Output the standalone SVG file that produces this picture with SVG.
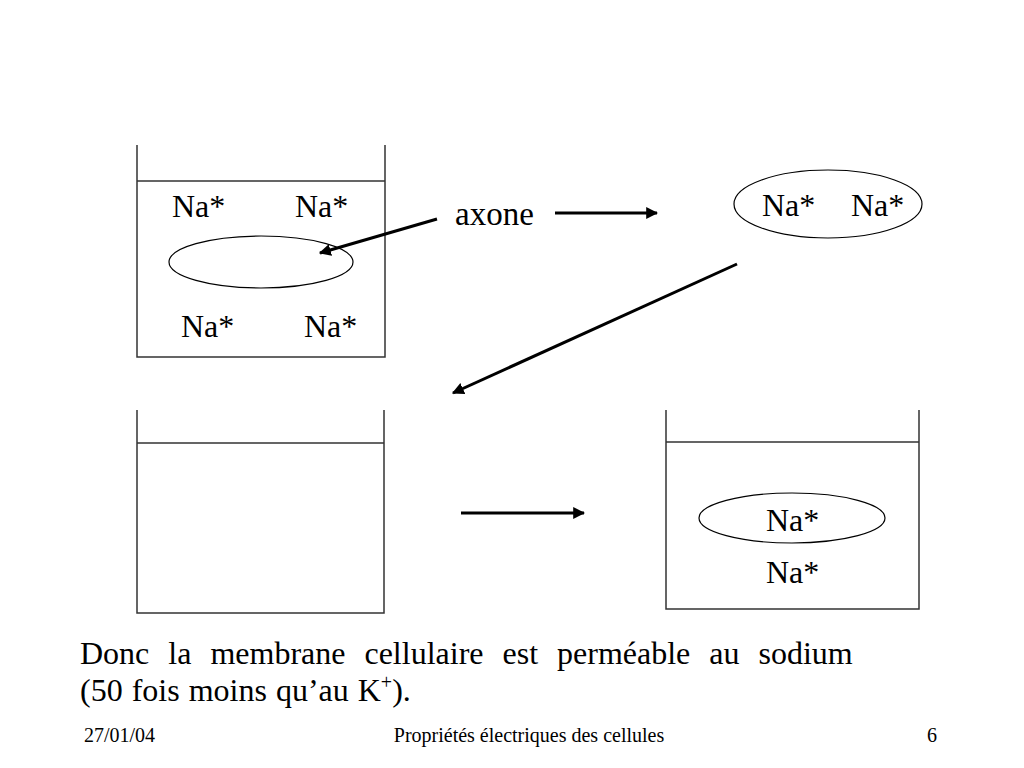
<svg xmlns="http://www.w3.org/2000/svg" width="1024" height="768" viewBox="0 0 1024 768">
<defs>
<style>
text{font-family:"Liberation Serif","Times New Roman",serif;fill:#000}
.lbl{font-size:32px}
.beaker{fill:none;stroke:#333;stroke-width:1.5}
.ell{fill:none;stroke:#000;stroke-width:1.2}
.arr{fill:none;stroke:#000;stroke-width:3;marker-end:url(#ah)}
</style>
<marker id="ah" viewBox="0 0 10 10" refX="9" refY="5" markerWidth="4" markerHeight="4" orient="auto" markerUnits="strokeWidth">
<path d="M0,0 L10,5 L0,10 z" fill="#000"/>
</marker>
</defs>
<rect width="1024" height="768" fill="#fff"/>

<g id="beaker1">
<path class="beaker" d="M137,145 V357 H385 V145 M137,181 H385"/>
<ellipse class="ell" cx="261" cy="262" rx="92" ry="26"/>
<text class="lbl" x="172" y="217">Na*</text>
<text class="lbl" x="295" y="217">Na*</text>
<text class="lbl" x="181" y="337">Na*</text>
<text class="lbl" x="304" y="337">Na*</text>
</g>

<g id="axone">
<text class="lbl" x="455" y="225" font-size="33" style="font-size:33px">axone</text>
</g>

<g id="axone-isolated">
<ellipse class="ell" cx="828" cy="204" rx="94" ry="34"/>
<text class="lbl" x="762" y="216">Na*</text>
<text class="lbl" x="851" y="216">Na*</text>
</g>

<g id="beaker2">
<path class="beaker" d="M137,410 V613 H384 V410 M137,443 H384"/>
</g>

<g id="beaker3">
<path class="beaker" d="M666,410 V609 H919 V410 M666,442 H919"/>
<ellipse class="ell" cx="792" cy="518" rx="93" ry="25"/>
<text class="lbl" x="766" y="531">Na*</text>
<text class="lbl" x="766" y="583">Na*</text>
</g>

<g id="connectors">
<line class="arr" x1="437" y1="219" x2="320" y2="253"/>
<line class="arr" x1="555" y1="213" x2="657" y2="213"/>
<line class="arr" x1="737" y1="264" x2="453" y2="393"/>
<line class="arr" x1="461" y1="513" x2="584" y2="513"/>
</g>

<g id="caption">
<text font-size="32" x="80" y="664" word-spacing="11">Donc la membrane cellulaire est perméable au sodium</text>
<text font-size="32" x="80" y="701" word-spacing="1">(50 fois moins qu’au K<tspan font-size="20" dy="-12">+</tspan><tspan dy="12">).</tspan></text>
</g>

<g id="footer">
<text font-size="20" x="84" y="742">27/01/04</text>
<text font-size="20" x="529" y="742" text-anchor="middle">Propriétés électriques des cellules</text>
<text font-size="20" x="932" y="742" text-anchor="middle">6</text>
</g>
</svg>
